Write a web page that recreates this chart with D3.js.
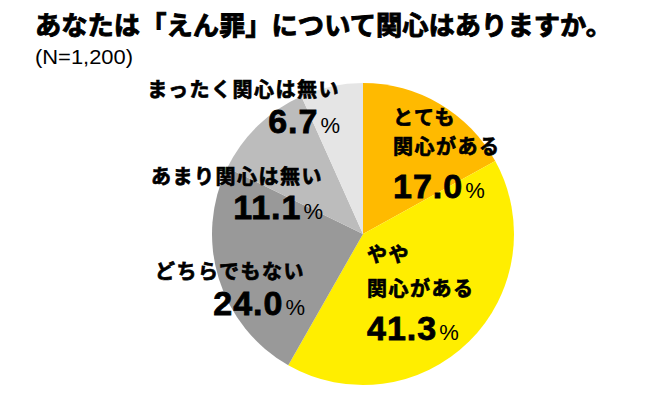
<!DOCTYPE html>
<html>
<head>
<meta charset="utf-8">
<script src="https://cdn.jsdelivr.net/npm/d3@7"></script>
<style>
  body { margin: 0; background: #fff; }
  svg { display: block; }
</style>
</head>
<body>
<svg id="chart" width="650" height="394"></svg>
<script>
const categories = ['とても\n関心がある', 'やや\n関心がある', 'どちらでもない', 'あまり関心は無い', 'まったく関心は無い'];
const values = [17.0, 41.3, 24.0, 11.1, 6.7];
const colors = ['#ffba00', '#ffee00', '#999999', '#bcbcbc', '#e5e5e5'];

const svg = d3.select('#chart');
const CX = 363, CY = 234, R = 151;
const JP = '"Noto Sans CJK JP", "Noto Sans", sans-serif';
const NUM = '"Liberation Sans", Arial, sans-serif';

// title (stroke to get the heavy gothic look)
svg.append('text')
    .attr('x', 35).attr('y', 35)
    .attr('textLength', 577).attr('lengthAdjust', 'spacingAndGlyphs')
    .style('font-family', JP).style('font-weight', 700).style('font-size', '26px')
    .style('stroke', '#000').style('stroke-width', 0.9)
    .text('あなたは「えん罪」について関心はありますか。');

svg.append('text')
    .attr('x', 35).attr('y', 64)
    .attr('textLength', 98).attr('lengthAdjust', 'spacingAndGlyphs')
    .style('font-family', NUM).style('font-size', '21px')
    .text('(N=1,200)');

const pie = d3.pie().sort(null).value(d => d);
const arc = d3.arc().innerRadius(0).outerRadius(R);

const g = svg.append('g').attr('transform', `translate(${CX},${CY})`);
g.selectAll('path')
    .data(pie(values))
    .join('path')
    .attr('d', arc)
    .attr('fill', (d, i) => colors[i]);

// label anchor points (text placement, relative to pie center)
const labelLayout = [
    { x: 30, y: -118, anchor: 'start', gap: 29, pctDy: 53 },
    { x: 4, y: 19, anchor: 'start', gap: 34, pctDy: 53 },
    { x: -58, y: 36, anchor: 'end', gap: 0, pctDy: 45 },
    { x: -40, y: -59, anchor: 'end', gap: 0, pctDy: 44 },
    { x: -23, y: -146, anchor: 'end', gap: 0, pctDy: 45 }
];

categories.forEach((c, i) => {
    const L = labelLayout[i];
    const lines = c.split('\n');
    const lg = svg.append('g').attr('transform', `translate(${CX + L.x},${CY + L.y})`);
    lines.forEach((ln, j) => {
        lg.append('text')
            .attr('x', 0).attr('y', j * L.gap)
            .attr('dominant-baseline', 'central')
            .attr('text-anchor', L.anchor)
            .style('font-family', JP).style('font-weight', 700).style('font-size', '20px')
            .style('letter-spacing', '1.5px')
            .style('stroke', '#000').style('stroke-width', 0.7)
            .text(ln);
    });
    const lastY = (lines.length - 1) * L.gap;
    const t = lg.append('text')
        .attr('x', 0).attr('y', lastY + L.pctDy)
        .attr('text-anchor', L.anchor)
        .style('font-family', NUM);
    t.append('tspan')
        .style('font-weight', 700).style('font-size', '34px').style('letter-spacing', '1px')
        .style('stroke', '#000').style('stroke-width', 0.8)
        .text(values[i].toFixed(1));
    t.append('tspan')
        .attr('dx', 2)
        .style('font-size', '22px')
        .text('%');
});
</script>
</body>
</html>
